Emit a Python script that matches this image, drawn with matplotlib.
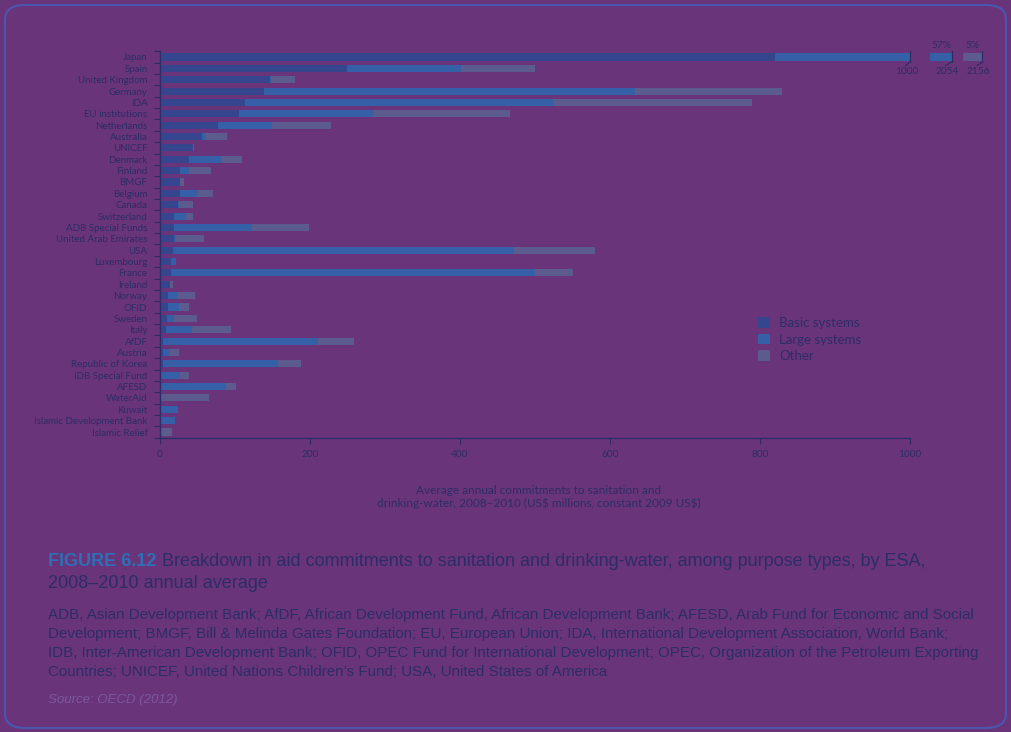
import matplotlib
matplotlib.use("Agg")
import matplotlib.pyplot as plt
from matplotlib.patches import FancyBboxPatch
import numpy as np

# values (US$ millions, constant 2009)
donors = ["Japan", "Spain", "United Kingdom", "Germany", "IDA", "EU institutions",
          "Netherlands", "Australia", "UNICEF", "Denmark", "Finland", "BMGF",
          "Belgium", "Canada", "Switzerland", "ADB Special Funds",
          "United Arab Emirates", "USA", "Luxembourg", "France", "Ireland",
          "Norway", "OFID", "Sweden", "Italy", "AfDF", "Austria",
          "Republic of Korea", "IDB Special Fund", "AFESD", "WaterAid", "Kuwait",
          "Islamic Development Bank", "Islamic Relief"]
basic = [820, 249, 147, 139, 113, 105, 77, 56, 44, 38, 27, 26, 26, 24, 19, 18, 18,
         17, 15, 15, 13, 11, 11, 9, 8, 4, 4, 4, 1, 0, 0, 0, 0, 0]
large = [1234, 152, 1, 494, 411, 179, 72, 4, 0, 43, 12, 0, 23, 1, 16, 105, 3,
         455, 6, 485, 0, 12, 14, 9, 34, 207, 8, 153, 25, 88, 0, 24, 20, 0]
other = [102, 99, 32, 196, 265, 183, 79, 29, 1, 28, 29, 6, 22, 19, 9, 76, 38,
         108, 0, 51, 4, 23, 14, 31, 53, 47, 13, 31, 12, 13, 65, 0, 0, 16]
xticks = [0, 200, 400, 600, 800, 1000]
japan_pct = ["57%", "5%"]

bg = "#69347a"
c_basic = "#36468e"
c_large = "#3560a8"
c_other = "#5b5b8e"
txt = "#2c2d66"

W, H = 1011, 732
fig = plt.figure(figsize=(W / 100, H / 100), dpi=100)
fig.patch.set_facecolor(bg)

def fx(px):
    return px / W

def fy(py):
    return 1 - py / H

# rounded frame
frame = FancyBboxPatch((fx(5), fy(728)), fx(1001), 723 / H,
                       boxstyle="round,pad=0,rounding_size=0.02",
                       transform=fig.transFigure, fill=False,
                       edgecolor="#4a56b0", linewidth=1.5)
fig.patches.append(frame)

ax = fig.add_axes([fx(160), fy(437.7), fx(750), (437.7 - 51.3) / H])
ax.set_facecolor("none")
y = np.arange(len(donors))
b = np.array(basic)
l = np.array(large)
o = np.array(other)
h = 0.62
r1 = ax.barh(y, b, height=h, color=c_basic, label="Basic systems")
r2 = ax.barh(y, l, left=b, height=h, color=c_large, label="Large systems")
r3 = ax.barh(y, o, left=b + l, height=h, color=c_other, label="Other")
ax.set_xlim(0, 1000)
ax.set_ylim(len(donors) - 0.5, -0.5)

lab_font = ["Lato", "DejaVu Sans"]
ax.set_yticks(y)
ax.set_yticklabels(donors, fontsize=7.0, color=txt, family=lab_font)
ax.tick_params(axis="y", length=0, pad=9)
ax.set_yticks(np.arange(-0.5, len(donors), 1.0), minor=True)
ax.tick_params(axis="y", which="minor", length=4, color=txt, width=0.8)
ax.set_xticks(xticks)
ax.set_xticklabels([str(t) for t in xticks], fontsize=7.3, color=txt, family=lab_font)
ax.tick_params(axis="x", length=4, color=txt, width=0.8, pad=5)
for s in ["top", "right"]:
    ax.spines[s].set_visible(False)
for s in ["left", "bottom"]:
    ax.spines[s].set_color(txt)
    ax.spines[s].set_linewidth(1.0)

# broken-axis mark at 1000 on the Japan bar
ax.plot([1000, 1000], [-0.5, 0.45], color=txt, lw=0.9, clip_on=False)
ax.plot([1000, 994], [0.45, 0.75], color=txt, lw=0.9, clip_on=False)
ax.text(996, 1.3, "1000", fontsize=7.3, color=txt, family=lab_font,
        ha="center", va="center")

# continuation pieces of the Japan bar
ax2 = fig.add_axes([fx(930), fy(437.7), fx(23), (437.7 - 51.3) / H])
ax3 = fig.add_axes([fx(963), fy(437.7), fx(20), (437.7 - 51.3) / H])
ax2.barh(0, large[0], left=basic[0], height=h, color=c_large)
ax3.barh(0, other[0], left=basic[0] + large[0], height=h, color=c_other)
ax2.set_xlim(2025, 2056)
ax3.set_xlim(2054, 2160)
for a, end, pct in [(ax2, basic[0] + large[0], japan_pct[0]),
                    (ax3, basic[0] + large[0] + other[0], japan_pct[1])]:
    a.set_ylim(len(donors) - 0.5, -0.5)
    a.axis("off")
    x0, x1 = a.get_xlim()
    a.plot([end, end], [-0.5, 0.45], color=txt, lw=0.9, clip_on=False)
    a.plot([end, end - (x1 - x0) * 0.25], [0.45, 0.75], color=txt, lw=0.9, clip_on=False)
    a.text(end - (x1 - x0) * 0.2, 1.3, str(end), fontsize=7.3, color=txt,
           family=lab_font, ha="center", va="center")
    a.text((x0 + x1) / 2, -0.65, pct, fontsize=7.3, color=txt,
           family=lab_font, ha="center", va="bottom")

fig.text(fx(539), fy(497), "Average annual commitments to sanitation and\n"
         "drinking-water, 2008–2010 (US\\$ millions, constant 2009 US\\$)",
         fontsize=8.5, color=txt, family=lab_font, ha="center", va="center",
         linespacing=1.1)

leg = fig.legend(handles=[r1, r2, r3], loc="upper left",
                 bbox_to_anchor=(fx(746), fy(305)), frameon=False,
                 handlelength=0.9, handleheight=0.9, handletextpad=0.7,
                 labelspacing=0.35, prop={"family": lab_font, "size": 9.5})
for t in leg.get_texts():
    t.set_color(txt)

cap_font = ["Liberation Sans", "DejaVu Sans"]
fig.text(fx(48), fy(562), "FIGURE 6.12", fontsize=13.0, color="#2e6fb5",
         fontweight="bold", family=cap_font, va="center")
fig.text(fx(162), fy(562), "Breakdown in aid commitments to sanitation and "
         "drinking-water, among purpose types, by ESA,",
         fontsize=13.0, color=txt, family=cap_font, va="center")
fig.text(fx(48), fy(583), "2008–2010 annual average",
         fontsize=13.0, color=txt, family=cap_font, va="center")

abbrev = ("ADB, Asian Development Bank; AfDF, African Development Fund, African Development Bank; AFESD, Arab Fund for Economic and Social\n"
          "Development; BMGF, Bill & Melinda Gates Foundation; EU, European Union; IDA, International Development Association, World Bank;\n"
          "IDB, Inter-American Development Bank; OFID, OPEC Fund for International Development; OPEC, Organization of the Petroleum Exporting\n"
          "Countries; UNICEF, United Nations Children’s Fund; USA, United States of America")
fig.text(fx(48), fy(608), abbrev, fontsize=10.9, color=txt, family=cap_font,
         va="top", linespacing=1.46)
fig.text(fx(48), fy(700), "Source: OECD (2012)", fontsize=9.5, color="#7a58a0",
         style="italic", family=cap_font, va="center")

fig.savefig("out.png", dpi=100, facecolor=bg)
